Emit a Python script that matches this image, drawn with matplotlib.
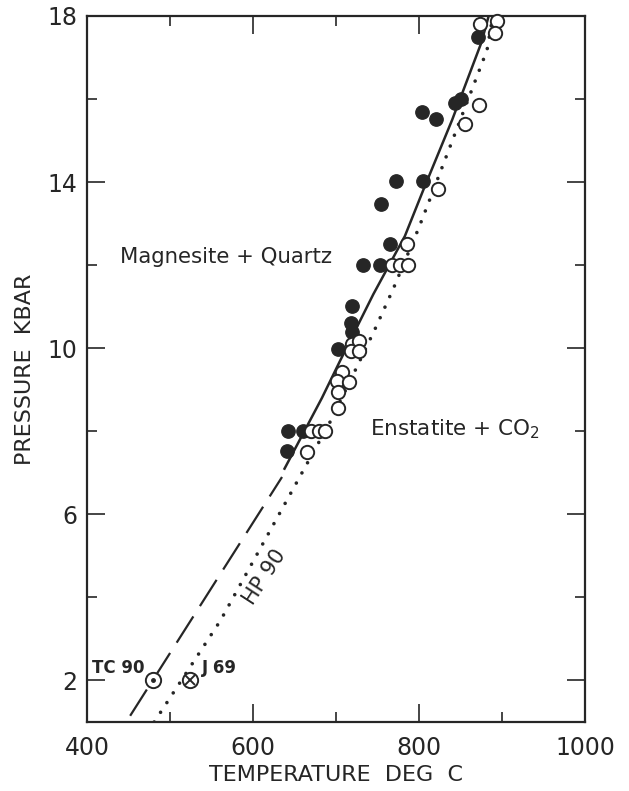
import matplotlib
matplotlib.use("Agg")
import matplotlib.pyplot as plt
from matplotlib.ticker import FixedLocator

# Datos (T en grados C, P en kbar)
filled_T = [871.5, 843, 851, 804, 820.5, 772, 804.5, 754, 765, 733, 753,
            719, 718, 719, 703, 642.5, 660.6, 640.6]
filled_P = [17.5, 15.9, 16.0, 15.7, 15.52, 14.02, 14.02, 13.48, 12.5, 12.0, 12.0,
            11.02, 10.6, 10.38, 9.98, 8.0, 8.0, 7.53]

open_T = [873.5, 893.6, 891.6, 872, 855, 822.5, 785, 768, 777, 787,
          719, 728, 718, 728, 707, 701, 716, 703, 703,
          670, 679, 687, 665]
open_P = [17.8, 17.87, 17.6, 15.86, 15.4, 13.84, 12.5, 12.0, 12.0, 12.0,
          10.1, 10.18, 9.94, 9.94, 9.42, 9.22, 9.18, 8.95, 8.55,
          8.0, 8.0, 8.0, 7.49]

# Curva experimental (continua) y extrapolacion (discontinua)
solid_T = [638, 683, 705, 745, 783, 805, 840, 875, 884]
solid_P = [7.1, 8.8, 9.7, 11.3, 12.7, 13.8, 15.5, 17.35, 18.0]
dashed_T = [452, 635]
dashed_P = [1.15, 6.9]

# Curva HP90 (punteada)
dotted_T = [481, 561, 693, 723, 747, 769, 799, 813, 882, 889]
dotted_P = [1.0, 3.45, 8.23, 9.46, 10.46, 11.43, 12.86, 13.58, 17.18, 18.0]

tc90 = (479.5, 2.0)
j69 = (524, 2.0)

ink = "#262626"
plt.rcParams['font.family'] = ['DejaVu Sans']
plt.rcParams['mathtext.default'] = 'regular'

fig = plt.figure(figsize=(6.29, 7.91), dpi=100)
ax = fig.add_axes([0.1383, 0.0872, 0.7917, 0.8926])

ax.plot(dashed_T, dashed_P, color=ink, lw=1.6, dashes=(14, 5.5))
ax.plot(solid_T, solid_P, color=ink, lw=1.8)
ax.plot(dotted_T, dotted_P, color=ink, lw=2.6, dashes=(0.01, 3.2),
        dash_capstyle='round')

ax.plot(filled_T, filled_P, 'o', ms=9.6, color=ink, mec=ink, zorder=3)
ax.plot(open_T, open_P, 'o', ms=9.6, mfc='white', mec=ink, mew=1.4, zorder=4,
        clip_on=False)

# TC90 y J69
ax.plot(*tc90, 'o', ms=11, mfc='white', mec=ink, mew=1.4, zorder=5)
ax.plot(*tc90, 'o', ms=2.5, color=ink, zorder=6)
ax.plot(*j69, 'o', ms=11, mfc='white', mec=ink, mew=1.4, zorder=5)
ax.plot(*j69, 'x', ms=6.5, color=ink, mew=1.4, zorder=6)

ax.text(469, 2.3, "TC 90", ha='right', va='center', fontsize=12,
        fontweight='bold', color=ink)
ax.text(538, 2.3, "J 69", ha='left', va='center', fontsize=12,
        fontweight='bold', color=ink)
ax.text(614, 4.5, "HP 90", ha='center', va='center', fontsize=15,
        rotation=57, color=ink)
ax.text(440, 12.2, "Magnesite + Quartz", ha='left', va='center',
        fontsize=15.3, color=ink)
ax.text(741, 8.05, "Enstatite + CO$_2$", ha='left', va='center',
        fontsize=15.5, color=ink)

ax.set_xlim(400, 1000)
ax.set_ylim(1, 18)
ax.xaxis.set_major_locator(FixedLocator([400, 600, 800, 1000]))
ax.xaxis.set_minor_locator(FixedLocator([500, 700, 900]))
ax.yaxis.set_major_locator(FixedLocator([2, 6, 10, 14, 18]))
ax.yaxis.set_minor_locator(FixedLocator([4, 8, 12, 16]))
ax.tick_params(which='both', direction='in', top=True, right=True,
               color=ink, width=1.2, labelsize=17, labelcolor=ink)
ax.tick_params(which='major', length=13)
ax.tick_params(which='minor', length=7)
ax.tick_params(axis='x', pad=10)
ax.tick_params(axis='y', pad=7)
for s in ax.spines.values():
    s.set_linewidth(1.6)
    s.set_color(ink)

ax.set_xlabel("TEMPERATURE  DEG  C", fontsize=16, color=ink, labelpad=4)
ax.set_ylabel("PRESSURE  KBAR", fontsize=16, color=ink, labelpad=9)

fig.savefig("out.png", dpi=100)
